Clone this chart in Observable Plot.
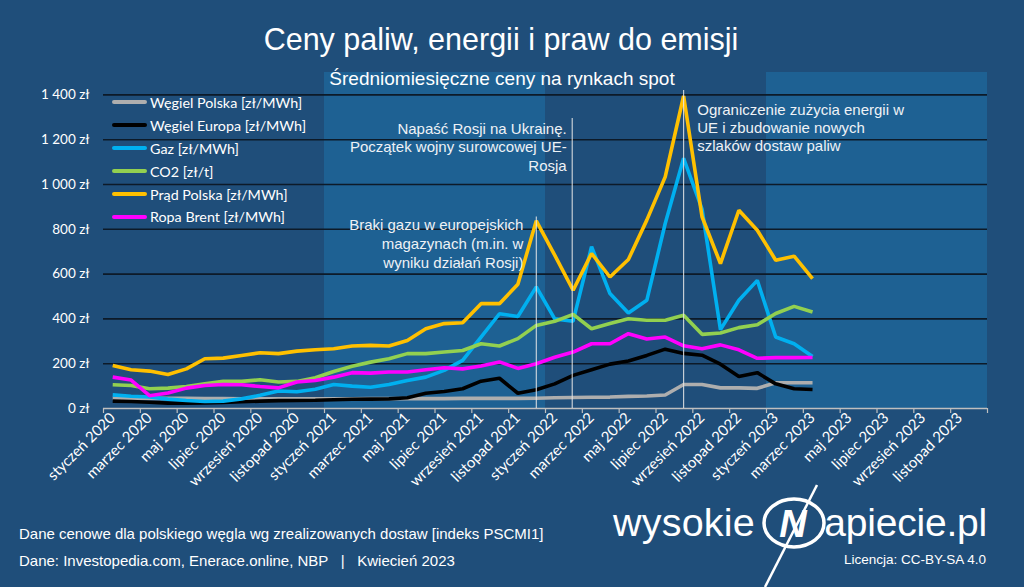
<!DOCTYPE html>
<html>
<head>
<meta charset="utf-8">
<script src="https://cdn.jsdelivr.net/npm/d3@7"></script>
<script src="https://cdn.jsdelivr.net/npm/@observablehq/plot@0.6"></script>
<style>
html,body{margin:0;padding:0;background:#1F4E7A;}
#wrap{position:relative;width:1024px;height:587px;overflow:hidden;background:#1F4E7A;font-family:"Liberation Sans",Arial,sans-serif;color:#fff;}
#chart{position:absolute;left:0;top:0;}
.abs{position:absolute;white-space:nowrap;line-height:1;}
#title{left:0;width:1002px;top:24px;text-align:center;font-size:30.5px;}
#subtitle{left:0;width:1004px;top:69px;text-align:center;font-size:19px;}
#legend{position:absolute;left:112px;top:91px;font-family:Lato,"Open Sans",sans-serif;font-size:14.3px;color:#fff;}
.lrow{position:relative;height:22.9px;display:flex;align-items:center;}
.sw{display:inline-block;width:35px;height:4px;border-radius:2px;margin-right:3px;}
#foot1{left:19px;top:526px;font-size:15px;}
#foot2{left:19px;top:553px;font-size:15px;}
#lic{right:38px;top:553px;font-size:13.5px;}
#logo1{left:613px;top:503px;font-size:39.5px;letter-spacing:0.2px;}
#logo2{right:37px;top:503px;font-size:39px;letter-spacing:-0.2px;}
#logoN{position:absolute;left:755px;top:480px;}
</style>
</head>
<body>
<div id="wrap">
  <div id="chart"></div>
  <div id="title" class="abs">Ceny paliw, energii i praw do emisji</div>
  <div id="subtitle" class="abs">Średniomiesięczne ceny na rynkach spot</div>
  <div id="legend"></div>
  <div id="foot1" class="abs">Dane cenowe dla polskiego węgla wg zrealizowanych dostaw [indeks PSCMI1]</div>
  <div id="foot2" class="abs">Dane: Investopedia.com, Enerace.online, NBP&nbsp;&nbsp;&nbsp;|&nbsp;&nbsp;&nbsp;Kwiecień 2023</div>
  <div id="lic" class="abs">Licencja: CC-BY-SA 4.0</div>
  <div id="logo1" class="abs">wysokie</div>
  <div id="logo2" class="abs">apiecie.pl</div>
  <svg id="logoN" width="80" height="107" viewBox="0 0 80 107">
    <ellipse cx="39" cy="43" rx="30" ry="24" fill="none" stroke="#fff" stroke-width="3.5"/>
    <text x="38" y="57" text-anchor="middle" font-family="Liberation Sans, Arial" font-weight="bold" font-style="italic" font-size="38" fill="#fff">N</text>
    <line x1="62" y1="5" x2="10" y2="107" stroke="#fff" stroke-width="2.5"/>
  </svg>
</div>
<script>
// ---- data ----
const months = ["2020-01","2020-02","2020-03","2020-04","2020-05","2020-06","2020-07","2020-08","2020-09","2020-10","2020-11","2020-12",
  "2021-01","2021-02","2021-03","2021-04","2021-05","2021-06","2021-07","2021-08","2021-09","2021-10","2021-11","2021-12",
  "2022-01","2022-02","2022-03","2022-04","2022-05","2022-06","2022-07","2022-08","2022-09","2022-10","2022-11","2022-12",
  "2023-01","2023-02","2023-03"];
const seriesNames = ["Węgiel Polska [zł/MWh]","Węgiel Europa [zł/MWh]","Gaz [zł/MWh]","CO2 [zł/t]","Prąd Polska [zł/MWh]","Ropa Brent [zł/MWh]"];
const wegielPolska = [45,45,45,45,45,44,44,43,43,43,43,43,43,43,44,44,44,44,44,45,45,45,45,46,48,49,50,51,54,56,60,107,107,92,92,90,115,115,115];
const wegielEuropa = [33,31,28,24,24,25,27,30,33,35,36,37,39,41,42,43,48,68,76,88,122,135,68,84,110,148,173,198,212,237,265,246,238,198,143,160,110,88,85];
const gaz = [61,55,51,42,36,31,33,43,59,78,75,86,107,100,95,107,125,140,170,215,319,423,411,543,400,390,722,513,426,483,826,1117,890,352,483,572,319,289,232];
const co2 = [106,103,88,91,98,110,121,121,128,118,121,137,165,189,207,222,245,245,252,259,289,279,312,371,389,420,356,379,401,394,394,416,331,337,361,374,424,456,431];
const pradPolska = [192,173,167,152,177,222,225,237,249,245,256,262,267,279,282,279,304,356,379,383,468,468,555,838,685,528,692,587,665,841,1034,1395,856,647,885,796,662,680,580];
const ropaBrent = [140,127,57,69,91,103,107,106,98,92,118,125,140,160,158,163,163,173,182,177,190,208,179,200,229,252,289,289,334,310,319,280,267,284,262,224,227,227,228];
const seriesValues = [wegielPolska, wegielEuropa, gaz, co2, pradPolska, ropaBrent];
const xTickLabels = ["styczeń 2020","marzec 2020","maj 2020","lipiec 2020","wrzesień 2020","listopad 2020",
  "styczeń 2021","marzec 2021","maj 2021","lipiec 2021","wrzesień 2021","listopad 2021",
  "styczeń 2022","marzec 2022","maj 2022","lipiec 2022","wrzesień 2022","listopad 2022",
  "styczeń 2023","marzec 2023","maj 2023","lipiec 2023","wrzesień 2023","listopad 2023"];
const yTickValues = [0,200,400,600,800,1000,1200,1400];
const yTickLabels = ["0 zł","200 zł","400 zł","600 zł","800 zł","1 000 zł","1 200 zł","1 400 zł"];
const shadedYears = ["2021","2023"];
const eventMonths = ["2021-12","2022-02","2022-08"];
const eventLabels = ["Braki gazu w europejskich\nmagazynach (m.in. w\nwyniku działań Rosji)",
  "Napaść Rosji na Ukrainę.\nPoczątek wojny surowcowej UE-\nRosja",
  "Ograniczenie zużycia energii w\nUE i zbudowanie nowych\nszlaków dostaw paliw"];

// ---- build ----
const colors = ["#AEAEAE","#000000","#00B0F0","#92D050","#FFC000","#FF00FF"];
const monthIndex = m => { const [y, mo] = m.split("-").map(Number); return (y - 2020) * 12 + (mo - 1); };
const rows = [];
seriesNames.forEach((name, s) => seriesValues[s].forEach((v, i) => rows.push({name, x: monthIndex(months[i]) + 0.5, v})));
const bands = shadedYears.map(y => ({x1: (+y - 2020) * 12, x2: (+y - 2020) * 12 + 12}));
const events = eventMonths.map((m, k) => ({x: monthIndex(m) + 0.5, label: eventLabels[k]}));
events[1].x -= 0.05;

const plot = Plot.plot({
  width: 1024, height: 587,
  marginTop: 72, marginBottom: 179, marginLeft: 103, marginRight: 37,
  style: {background: "transparent", color: "#fff", fontFamily: "Lato, 'Open Sans', sans-serif", fontSize: "13.5px", overflow: "visible"},
  x: {domain: [0, 48], axis: null},
  y: {domain: [0, 1500], axis: null},
  color: {domain: seriesNames, range: colors},
  marks: [
    Plot.rect(bands, {x1: "x1", x2: "x2", fill: "#1E6193"}),
    Plot.ruleY(yTickValues.filter(v => v > 0), {stroke: "#0D1A28", strokeWidth: 1.6}),
    Plot.axisY({ticks: yTickValues, label: null, tickSize: 0, tickPadding: 14, fontSize: 13.5, tickFormat: v => yTickLabels[yTickValues.indexOf(v)], fill: "#fff"}),
    Plot.ruleY([0], {stroke: "#BFBFBF", strokeWidth: 1.5}),
    Plot.axisX({ticks: d3.range(0, 49, 2), label: null, tickSize: 5, tickFormat: () => "", stroke: "#BFBFBF", strokeWidth: 1.2}),
    Plot.axisX({ticks: d3.range(0, 48, 2).map(d => d + 0.5), label: null, tickSize: 0, tickPadding: 7, tickRotate: -45, fontSize: 15,
      tickFormat: d => xTickLabels[Math.round((d - 0.5) / 2)], fill: "#fff"}),
    Plot.lineY(rows, {x: "x", y: "v", stroke: "name", strokeWidth: 3.6, strokeLinejoin: "miter", strokeLinecap: "butt"}),
    Plot.ruleX(events, {x: "x", y1: 0, y2: (d, i) => [855, 1295, 1420][i], stroke: "#E8E8E8", strokeWidth: 1.1, strokeOpacity: 0.9}),
    Plot.text([events[0]], {x: d => d.x - 0.7, y: 738, text: "label", textAnchor: "end", lineHeight: 1.26, fontSize: 15, fontFamily: "Liberation Sans, Arial", fill: "#EEF2F6"}),
    Plot.text([events[1]], {x: d => d.x - 0.3, y: 1170, text: "label", textAnchor: "end", lineHeight: 1.24, fontSize: 15, fontFamily: "Liberation Sans, Arial", fill: "#EEF2F6"}),
    Plot.text([events[2]], {x: d => d.x + 0.74, y: 1256, text: "label", textAnchor: "start", lineHeight: 1.22, fontSize: 15, fontFamily: "Liberation Sans, Arial", fill: "#EEF2F6"})
  ]
});
document.getElementById("chart").appendChild(plot);

// legend
const leg = document.getElementById("legend");
seriesNames.forEach((n, i) => {
  const r = document.createElement("div");
  r.className = "lrow";
  r.innerHTML = `<span class="sw" style="background:${colors[i]}"></span><span>${n}</span>`;
  leg.appendChild(r);
});
</script>
</body>
</html>
